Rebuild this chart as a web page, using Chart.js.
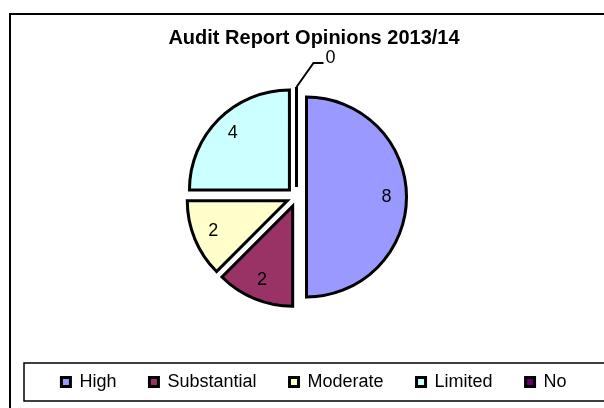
<!DOCTYPE html>
<html>
<head>
<meta charset="utf-8">
<script src="https://cdn.jsdelivr.net/npm/chart.js@4.4.1/dist/chart.umd.min.js"></script>
<style>
    body { margin: 0; background: #fff; overflow: hidden; }
</style>
</head>
<body>
<canvas id="auditPie" width="604" height="408"></canvas>
<script>
// Chart data
var chartTitle = 'Audit Report Opinions 2013/14';
var opinions = ['High', 'Substantial', 'Moderate', 'Limited', 'No'];
var reportCounts = [8, 2, 2, 4, 0];
var sliceColors = ['#9999FF', '#993366', '#FFFFCC', '#CCFFFF', '#660066'];

var explodeDist = 10;   // how far each slice is pulled out
var labelRatio = 0.8;   // data label position along the radius

Chart.defaults.font.family = "'Liberation Sans', Arial, sans-serif";

// Exploded slices, value labels and the frames round the chart and legend
var pieExtras = {
    id: 'pieExtras',
    afterLayout: function(chart) {
        // plot area sits a bit left of the title/legend centre
        chart.chartArea.right -= 35;
        chart.chartArea.width -= 35;
    },
    afterUpdate: function(chart) {
        chart.getDatasetMeta(0).data.forEach(function(arc) {
            var mid = (arc.startAngle + arc.endAngle) / 2;
            arc.x += Math.cos(mid) * explodeDist;
            arc.y += Math.sin(mid) * explodeDist;
        });
    },
    beforeDraw: function(chart) {
        var ctx = chart.ctx;
        ctx.save();
        ctx.strokeStyle = '#000';
        ctx.lineWidth = 2;
        ctx.strokeRect(10, 14, 700, 500);
        ctx.restore();
    },
    afterDraw: function(chart) {
        var ctx = chart.ctx;
        var meta = chart.getDatasetMeta(0);
        ctx.save();
        ctx.fillStyle = '#000';
        ctx.strokeStyle = '#000';
        ctx.font = "18px 'Liberation Sans', Arial, sans-serif";
        ctx.textAlign = 'center';
        ctx.textBaseline = 'middle';

        meta.data.forEach(function(arc, i) {
            var mid = (arc.startAngle + arc.endAngle) / 2;
            var r = arc.outerRadius;
            if (reportCounts[i] === 0) {
                // zero slice: just the edge line plus a leader to its label
                var ex = arc.x + Math.cos(mid) * r;
                var ey = arc.y + Math.sin(mid) * r;
                ctx.lineWidth = 3;
                ctx.beginPath();
                ctx.moveTo(arc.x, arc.y);
                ctx.lineTo(ex, ey);
                ctx.stroke();
                ctx.lineWidth = 2;
                ctx.beginPath();
                ctx.moveTo(ex, ey);
                ctx.lineTo(ex + 17, ey - 24);
                ctx.lineTo(ex + 27, ey - 24);
                ctx.stroke();
                ctx.textAlign = 'left';
                ctx.fillText(String(reportCounts[i]), ex + 29, ey - 29);
                ctx.textAlign = 'center';
            } else {
                ctx.fillText(String(reportCounts[i]),
                    arc.x + Math.cos(mid) * r * labelRatio,
                    arc.y + Math.sin(mid) * r * labelRatio);
            }
        });

        // legend frame
        var lg = chart.legend;
        var lgMid = lg.top + 42;
        ctx.lineWidth = 1.5;
        ctx.strokeRect(lg.left, lgMid - 19, lg.width + 20, 38);
        ctx.restore();
    }
};

var ctx = document.getElementById('auditPie').getContext('2d');

var chart = new Chart(ctx, {
    type: 'pie',
    data: {
        labels: opinions,
        datasets: [{
            data: reportCounts,
            backgroundColor: sliceColors,
            borderColor: '#000',
            borderWidth: 3,
            borderJoinStyle: 'miter',
            radius: 100
        }]
    },
    options: {
        responsive: false,
        animation: false,
        events: [],
        layout: {
            padding: { top: 14, left: 24, right: 0, bottom: 7 }
        },
        plugins: {
            title: {
                display: true,
                text: chartTitle,
                color: '#000',
                font: { size: 20, weight: 'bold' },
                padding: { top: 12, bottom: 4 }
            },
            legend: {
                position: 'bottom',
                labels: {
                    color: '#000',
                    font: { size: 18 },
                    boxWidth: 9,
                    boxHeight: 9,
                    padding: 33,
                    generateLabels: function(chart) {
                        var items = Chart.PieController.overrides.plugins.legend.labels.generateLabels(chart);
                        items.forEach(function(it) { it.lineWidth = 3; });
                        return items;
                    }
                }
            },
            tooltip: { enabled: false }
        }
    },
    plugins: [pieExtras]
});
</script>
</body>
</html>
